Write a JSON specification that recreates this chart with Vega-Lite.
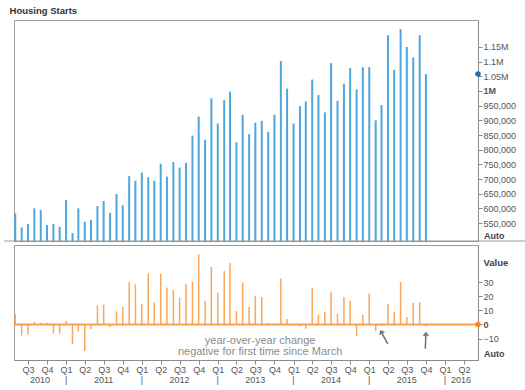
{
  "$schema": "https://vega.github.io/schema/vega-lite/v6.json",
  "padding": {"left": 3, "top": 6, "right": 0, "bottom": 0},
  "config": {
    "font": "Liberation Sans",
    "view": {"stroke": "#9a9a9a", "strokeWidth": 1},
    "axis": {"grid": false, "domainColor": "#8a8a8a", "tickColor": "#8a8a8a", "labelColor": "#555555", "labelFontSize": 9, "tickSize": 4, "labelOverlap": false, "labelSeparation": 0}
  },
  "title": {"text": "Housing Starts", "anchor": "start", "fontSize": 9.5, "fontWeight": "bold", "color": "#333333", "dx": 6.3, "offset": 4},
  "spacing": 0,
  "datasets": {
    "hs": [
      {"date": "2010-05-01", "starts": 582000, "yoy": 7.6},
      {"date": "2010-06-01", "starts": 535000, "yoy": -7.8},
      {"date": "2010-07-01", "starts": 547000, "yoy": -7.1},
      {"date": "2010-08-01", "starts": 600000, "yoy": 1.9},
      {"date": "2010-09-01", "starts": 594000, "yoy": 1.2},
      {"date": "2010-10-01", "starts": 543000, "yoy": 1.2},
      {"date": "2010-11-01", "starts": 547000, "yoy": -6.6},
      {"date": "2010-12-01", "starts": 537000, "yoy": -6.6},
      {"date": "2011-01-01", "starts": 629000, "yoy": 2.4},
      {"date": "2011-02-01", "starts": 516000, "yoy": -13.7},
      {"date": "2011-03-01", "starts": 600000, "yoy": -5.0},
      {"date": "2011-04-01", "starts": 554000, "yoy": -18.9},
      {"date": "2011-05-01", "starts": 561000, "yoy": -3.3},
      {"date": "2011-06-01", "starts": 608000, "yoy": 13.5},
      {"date": "2011-07-01", "starts": 625000, "yoy": 14.0},
      {"date": "2011-08-01", "starts": 585000, "yoy": -1.8},
      {"date": "2011-09-01", "starts": 649000, "yoy": 9.2},
      {"date": "2011-10-01", "starts": 610000, "yoy": 12.3},
      {"date": "2011-11-01", "starts": 710000, "yoy": 30.1},
      {"date": "2011-12-01", "starts": 694000, "yoy": 28.4},
      {"date": "2012-01-01", "starts": 722000, "yoy": 14.5},
      {"date": "2012-02-01", "starts": 706000, "yoy": 36.0},
      {"date": "2012-03-01", "starts": 694000, "yoy": 15.6},
      {"date": "2012-04-01", "starts": 752000, "yoy": 36.0},
      {"date": "2012-05-01", "starts": 708000, "yoy": 26.2},
      {"date": "2012-06-01", "starts": 758000, "yoy": 24.4},
      {"date": "2012-07-01", "starts": 739000, "yoy": 18.9},
      {"date": "2012-08-01", "starts": 755000, "yoy": 28.7},
      {"date": "2012-09-01", "starts": 848000, "yoy": 30.3},
      {"date": "2012-10-01", "starts": 913000, "yoy": 49.9},
      {"date": "2012-11-01", "starts": 834000, "yoy": 16.8},
      {"date": "2012-12-01", "starts": 975000, "yoy": 40.7},
      {"date": "2013-01-01", "starts": 889000, "yoy": 22.7},
      {"date": "2013-02-01", "starts": 969000, "yoy": 37.9},
      {"date": "2013-03-01", "starts": 998000, "yoy": 43.5},
      {"date": "2013-04-01", "starts": 825000, "yoy": 9.5},
      {"date": "2013-05-01", "starts": 919000, "yoy": 29.6},
      {"date": "2013-06-01", "starts": 853000, "yoy": 12.3},
      {"date": "2013-07-01", "starts": 892000, "yoy": 20.4},
      {"date": "2013-08-01", "starts": 898000, "yoy": 19.4},
      {"date": "2013-09-01", "starts": 861000, "yoy": 1.2},
      {"date": "2013-10-01", "starts": 919000, "yoy": 0.7},
      {"date": "2013-11-01", "starts": 1102000, "yoy": 32.6},
      {"date": "2013-12-01", "starts": 1008000, "yoy": 3.8},
      {"date": "2014-01-01", "starts": 889000, "yoy": 0.0},
      {"date": "2014-02-01", "starts": 949000, "yoy": -1.4},
      {"date": "2014-03-01", "starts": 964000, "yoy": -3.0},
      {"date": "2014-04-01", "starts": 1039000, "yoy": 25.8},
      {"date": "2014-05-01", "starts": 986000, "yoy": 7.1},
      {"date": "2014-06-01", "starts": 927000, "yoy": 8.8},
      {"date": "2014-07-01", "starts": 1095000, "yoy": 22.7},
      {"date": "2014-08-01", "starts": 967000, "yoy": 7.6},
      {"date": "2014-09-01", "starts": 1025000, "yoy": 19.4},
      {"date": "2014-10-01", "starts": 1078000, "yoy": 16.8},
      {"date": "2014-11-01", "starts": 1006000, "yoy": -8.0},
      {"date": "2014-12-01", "starts": 1081000, "yoy": 6.7},
      {"date": "2015-01-01", "starts": 1081000, "yoy": 21.8},
      {"date": "2015-02-01", "starts": 900000, "yoy": -4.7},
      {"date": "2015-03-01", "starts": 952000, "yoy": -1.0},
      {"date": "2015-04-01", "starts": 1190000, "yoy": 14.5},
      {"date": "2015-05-01", "starts": 1072000, "yoy": 8.8},
      {"date": "2015-06-01", "starts": 1211000, "yoy": 30.1},
      {"date": "2015-07-01", "starts": 1150000, "yoy": 5.2},
      {"date": "2015-08-01", "starts": 1114000, "yoy": 15.2},
      {"date": "2015-09-01", "starts": 1190000, "yoy": 15.9},
      {"date": "2015-10-01", "starts": 1058000, "yoy": -1.5}
    ],
    "years": [
      {"d": "2010-08-28", "t": "2010"},
      {"d": "2011-01-01", "t": "|"},
      {"d": "2011-07-01", "t": "2011"},
      {"d": "2012-01-01", "t": "|"},
      {"d": "2012-07-01", "t": "2012"},
      {"d": "2013-01-01", "t": "|"},
      {"d": "2013-07-01", "t": "2013"},
      {"d": "2014-01-01", "t": "|"},
      {"d": "2014-07-01", "t": "2014"},
      {"d": "2015-01-01", "t": "|"},
      {"d": "2015-07-01", "t": "2015"},
      {"d": "2016-01-01", "t": "|"},
      {"d": "2016-03-18", "t": "2016"}
    ],
    "arrows": [
      {"a": 1, "x1": "2015-02-26", "y1": -4.7, "x2": "2015-03-31", "y2": -13.7},
      {"a": 2, "x1": "2015-10-01", "y1": -6.1, "x2": "2015-09-28", "y2": -17.2}
    ],
    "note": [
      {"d": "2013-07-24", "v": -7.3, "t": "year-over-year change\nnegative for first time since March"}
    ],
    "one": [{}]
  },
  "vconcat": [
    {
      "width": 464,
      "height": 221,
      "layer": [
        {
          "data": {"name": "hs"},
          "mark": {"type": "rule", "color": "#4ea7dc", "strokeWidth": 2},
          "encoding": {
            "x": {"field": "date", "type": "temporal",
                  "scale": {"type": "utc", "domain": [1272153600000, 1465344000000]},
                  "axis": null},
            "y": {"field": "starts", "type": "quantitative",
                  "scale": {"domain": [488700, 1242000], "nice": false, "zero": false},
                  "axis": {"orient": "right", "title": null, "tickCount": 40,
                           "values": [550000, 600000, 650000, 700000, 750000, 800000, 850000, 900000, 950000, 1000000, 1050000, 1100000, 1150000],
                           "labelExpr": "datum.value >= 1000000 ? format(datum.value / 1000000, '.3~') + 'M' : format(datum.value, ',')",
                           "labelPadding": 1, "labelOverlap": false, "labelFlush": false, "labelBaseline": "middle",
                           "labelFontWeight": {"condition": {"test": "datum.value == 1000000", "value": "bold"}, "value": "normal"}}},
            "y2": {"datum": 485000}
          }
        },
        {
          "data": {"name": "one"},
          "mark": {"type": "rule", "color": "#9a9a9a", "strokeWidth": 1},
          "encoding": {
            "x": {"datum": 1268092800000, "type": "temporal"},
            "x2": {"datum": 1484870400000},
            "y": {"datum": 488700, "type": "quantitative"}
          }
        },
        {
          "data": {"name": "one"},
          "mark": {"type": "point", "filled": true, "color": "#1f6fb8", "size": 30, "opacity": 1, "dx": 2},
          "encoding": {
            "x": {"datum": 1465344000000, "type": "temporal"},
            "y": {"datum": 1058000, "type": "quantitative"}
          }
        },
        {
          "data": {"name": "one"},
          "mark": {"type": "text", "text": "Auto", "align": "left", "baseline": "middle", "dx": 6, "dy": -5, "fontSize": 9, "fontWeight": "bold", "color": "#444444"},
          "encoding": {
            "x": {"datum": 1465344000000, "type": "temporal"},
            "y": {"datum": 488700, "type": "quantitative"}
          }
        }
      ]
    },
    {
      "width": 464,
      "height": 115,
      "layer": [
        {
          "data": {"name": "hs"},
          "mark": {"type": "rule", "color": "#f9a75b", "strokeWidth": 1.5},
          "encoding": {
            "x": {"field": "date", "type": "temporal",
                  "scale": {"type": "utc", "domain": [1272153600000, 1465344000000]},
                  "axis": {"title": null, "tickCount": {"interval": "month", "step": 3},
                           "labelExpr": "'Q' + (floor(utcmonth(datum.value) / 3) + 1)",
                           "labelPadding": 1, "labelOverlap": false, "labelFlush": false}},
            "y": {"field": "yoy", "type": "quantitative",
                  "scale": {"domain": [-25.2, 56.3], "nice": false, "zero": false},
                  "axis": {"orient": "right", "title": "Value", "values": [-10, 0, 10, 20, 30], "tickCount": 40,
                           "titleAngle": 0, "titleAlign": "left", "titleBaseline": "middle", "titleX": 5, "titleY": 17,
                           "titleFontSize": 9.5, "titleFontWeight": "bold", "titleColor": "#444444",
                           "labelPadding": 1, "labelOverlap": false, "labelFlush": false, "labelBaseline": "middle",
                           "labelFontWeight": {"condition": {"test": "datum.value == 0", "value": "bold"}, "value": "normal"}}},
            "y2": {"datum": 0}
          }
        },
        {
          "data": {"name": "one"},
          "mark": {"type": "rule", "color": "#f9a04c", "strokeWidth": 2},
          "encoding": {"y": {"datum": 0, "type": "quantitative"}}
        },
        {
          "data": {"name": "one"},
          "mark": {"type": "point", "filled": true, "color": "#f5891f", "size": 30, "opacity": 1, "dx": 3},
          "encoding": {
            "x": {"datum": 1465344000000, "type": "temporal"},
            "y": {"datum": 0, "type": "quantitative"}
          }
        },
        {
          "data": {"name": "note"},
          "mark": {"type": "text", "align": "center", "baseline": "top", "lineBreak": "\n", "lineHeight": 11, "fontSize": 11, "color": "#8c8c8c"},
          "encoding": {
            "x": {"field": "d", "type": "temporal"},
            "y": {"field": "v", "type": "quantitative"},
            "text": {"field": "t"}
          }
        },
        {
          "data": {"name": "arrows"},
          "mark": {"type": "rule", "color": "#6e6e6e", "strokeWidth": 1.5},
          "encoding": {
            "x": {"field": "x1", "type": "temporal"},
            "x2": {"field": "x2"},
            "y": {"field": "y1", "type": "quantitative"},
            "y2": {"field": "y2"}
          }
        },
        {
          "data": {"name": "arrows"},
          "transform": [{"filter": "datum.a == 1"}],
          "mark": {"type": "point", "shape": "M-0.6,0.75L0,0L0.6,0.75", "filled": false, "color": "#6e6e6e", "strokeWidth": 1.5, "size": 64, "opacity": 1, "angle": -28},
          "encoding": {
            "x": {"field": "x1", "type": "temporal"},
            "y": {"field": "y1", "type": "quantitative"}
          }
        },
        {
          "data": {"name": "arrows"},
          "transform": [{"filter": "datum.a == 2"}],
          "mark": {"type": "point", "shape": "M-0.6,0.75L0,0L0.6,0.75", "filled": false, "color": "#6e6e6e", "strokeWidth": 1.5, "size": 64, "opacity": 1, "angle": 0},
          "encoding": {
            "x": {"field": "x1", "type": "temporal"},
            "y": {"field": "y1", "type": "quantitative"}
          }
        },
        {
          "data": {"name": "years"},
          "mark": {"type": "text", "align": "center", "baseline": "middle", "dy": 20, "fontSize": 9, "color": "#555555"},
          "encoding": {
            "x": {"field": "d", "type": "temporal"},
            "y": {"datum": -25.2, "type": "quantitative"},
            "text": {"field": "t"}
          }
        },
        {
          "data": {"name": "one"},
          "mark": {"type": "text", "text": "Auto", "align": "left", "baseline": "middle", "dx": 6, "dy": -6, "fontSize": 9, "fontWeight": "bold", "color": "#444444"},
          "encoding": {
            "x": {"datum": 1465344000000, "type": "temporal"},
            "y": {"datum": -25.2, "type": "quantitative"}
          }
        }
      ]
    }
  ]
}
